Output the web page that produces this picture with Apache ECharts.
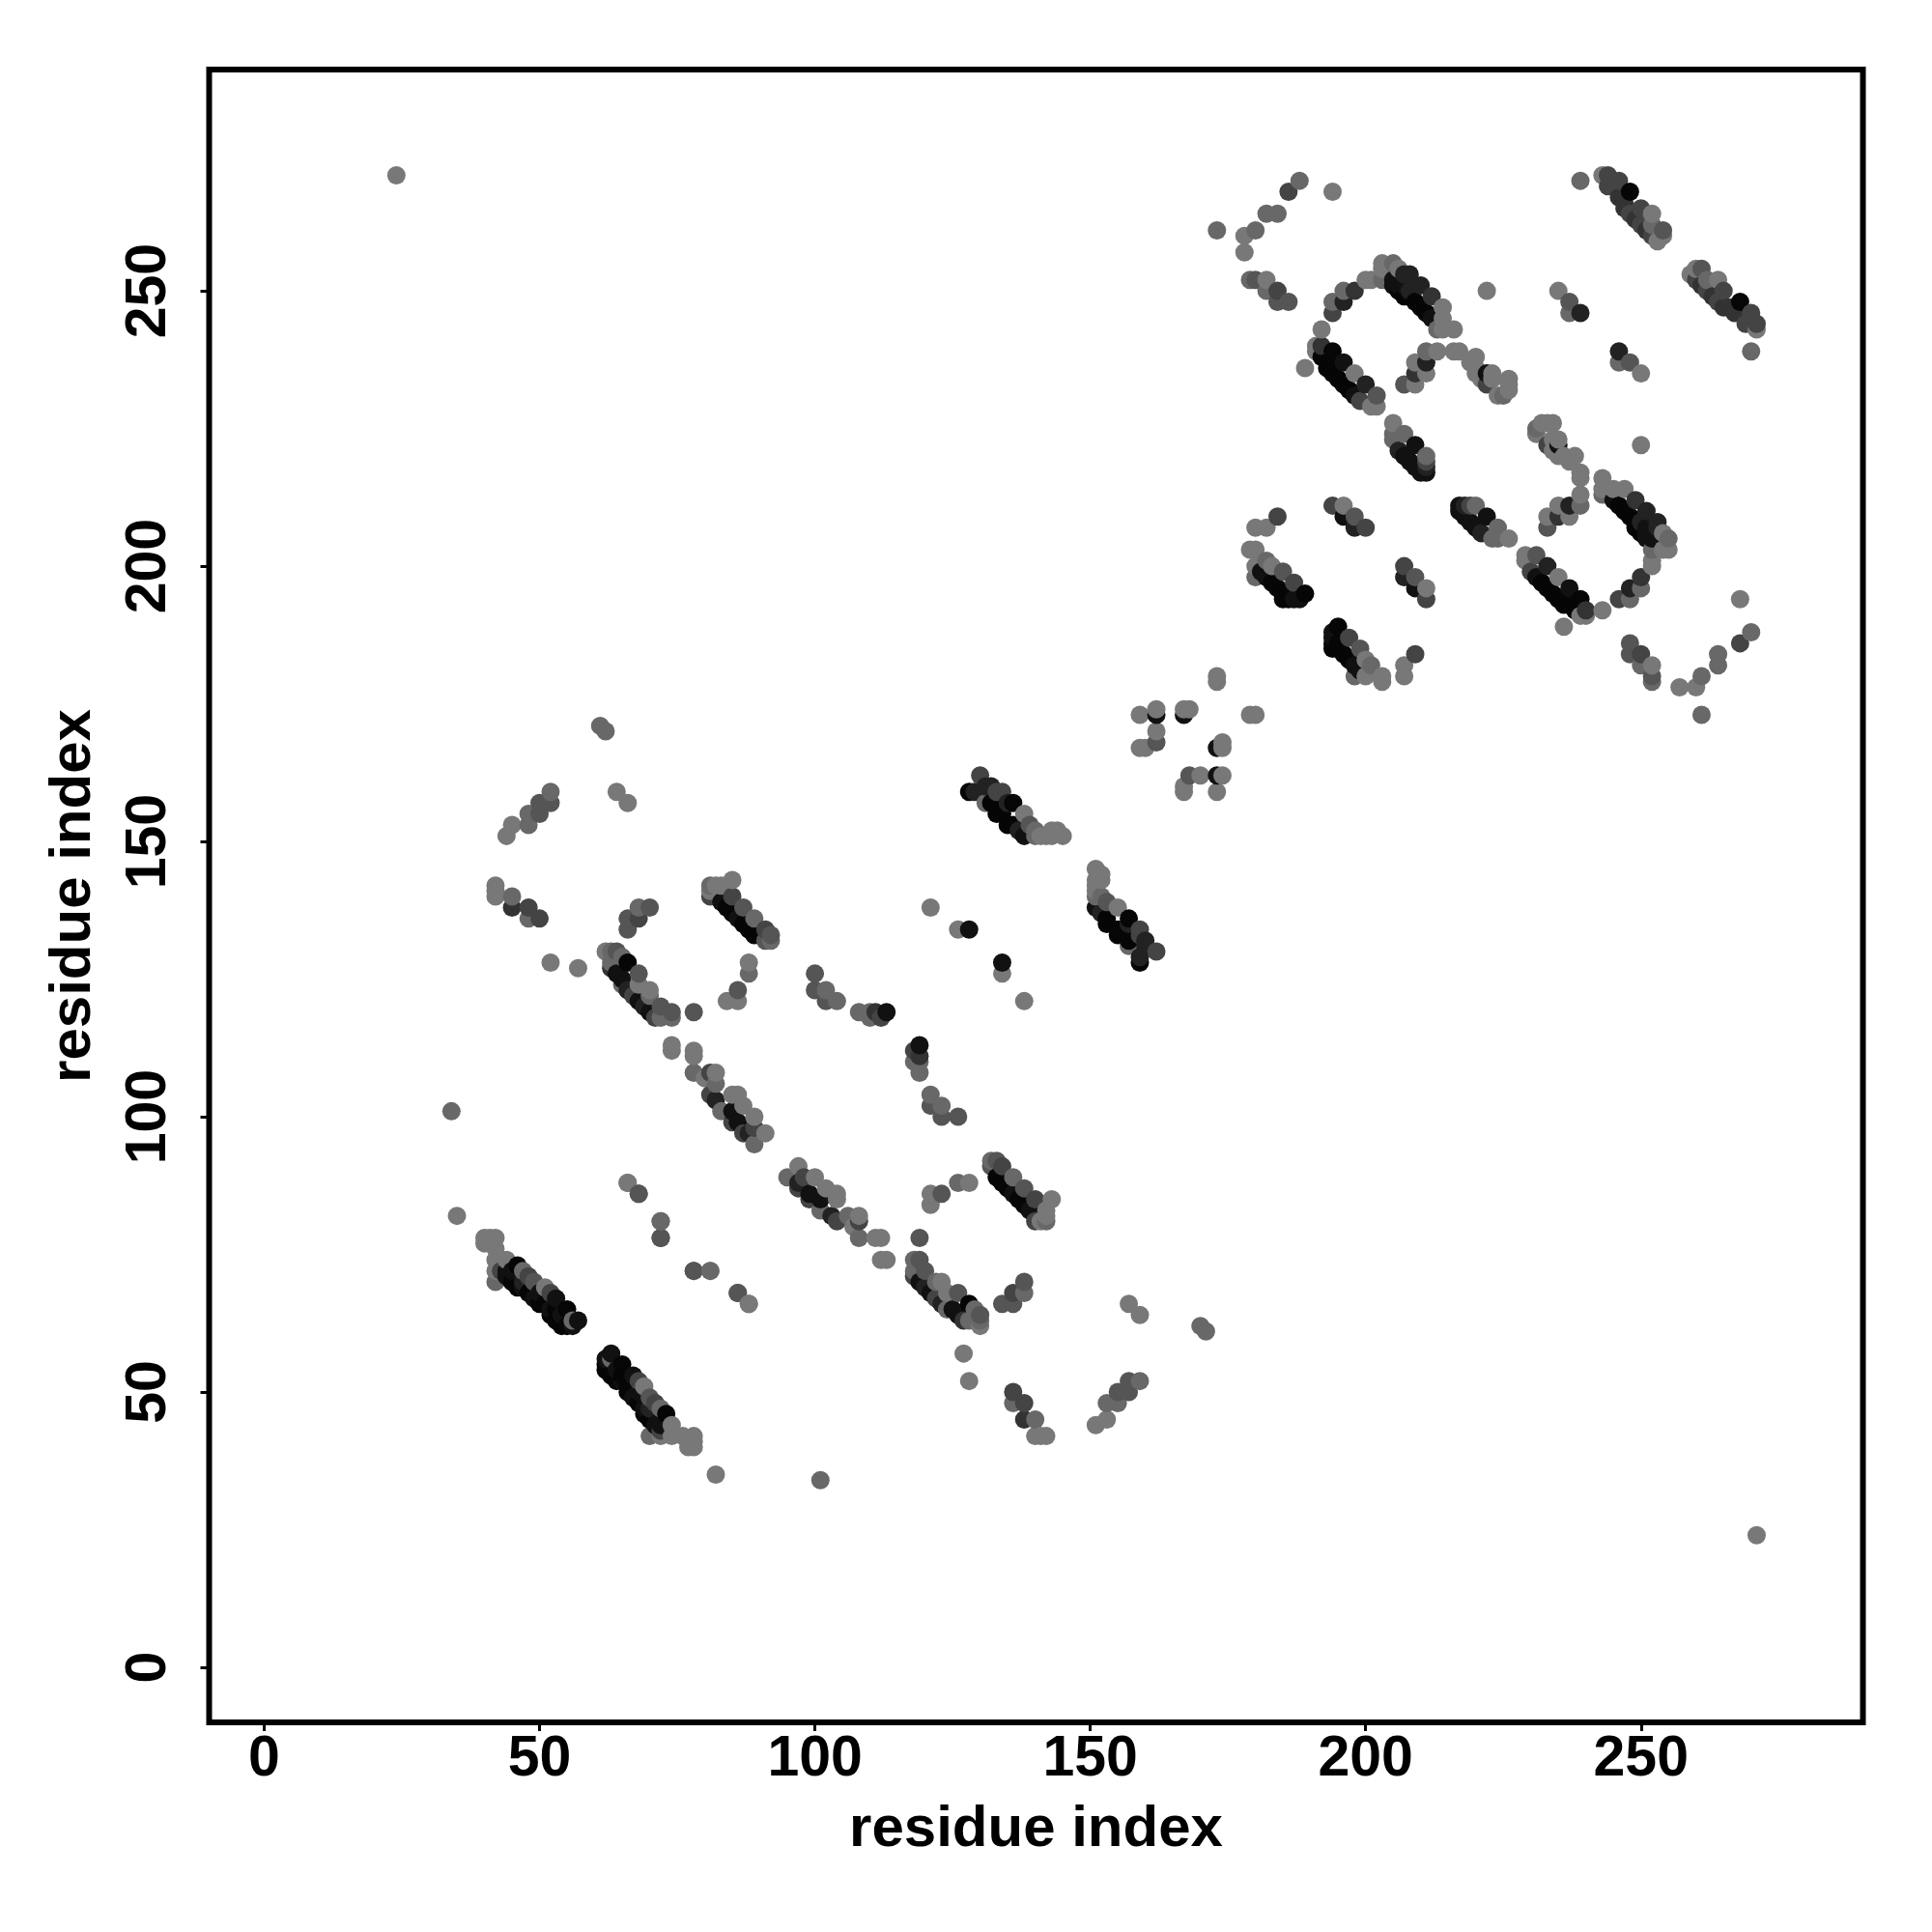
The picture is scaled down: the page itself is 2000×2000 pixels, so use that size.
<!DOCTYPE html>
<html><head><meta charset="utf-8">
<style>html,body{margin:0;padding:0;background:#fff}#c{width:2000px;height:2000px}</style>
<script src="https://cdn.jsdelivr.net/npm/echarts@6/dist/echarts.min.js"></script>
</head><body><div id="c"></div>
<script>
// Contacts [residue i, residue j, strength level]; the map is symmetric, so each is listed once.
const isolated=[[24,271,0],[34,101,1],[35,82,0],[66,88,0],[68,86,2],[72,81,0],[72,78,3],[78,72,2],[81,72,1],[86,68,2],[88,66,0],[61,171,1],[62,170,1],[64,159,0],[66,157,0],[52,128,0],[57,127,0],[121,138,0],[126,134,0],[128,134,6],[222,250,0],[189,236,0],[192,243,0]];
const strandA=[[40,78,0],[41,78,0],[42,78,0],[40,77,0],[41,77,0],[42,76,0],[42,74,0],[42,72,0],[42,70,1],[44,74,0],[43,72,3],[44,72,6],[44,71,6],[45,72,6],[45,70,7],[46,73,7],[47,72,1],[46,69,7],[47,70,5],[47,69,6],[48,71,3],[48,68,7],[49,70,2],[49,67,6],[50,68,6],[50,66,7],[51,69,0],[51,66,7],[52,68,3],[52,64,7],[52,65,6],[53,67,6],[53,65,7],[53,63,7],[54,62,7],[54,64,6],[55,65,7],[55,62,7],[56,62,6],[56,63,1],[57,63,6]];
const strandB=[[95,89,1],[97,91,0],[97,87,3],[99,85,3],[101,83,1],[104,81,3],[98,89,3],[100,89,0],[102,87,0],[104,86,0],[104,85,0],[106,82,1],[108,82,0],[108,81,3],[108,78,1],[111,78,0],[112,78,0],[112,74,0],[113,74,0],[107,80,0],[97,88,5],[99,86,6],[101,85,6],[103,82,5]];
const strandC=[[118,74,1],[119,74,2],[118,72,1],[118,71,3],[119,70,6],[120,72,2],[120,69,5],[121,68,6],[122,70,1],[122,67,3],[123,70,0],[123,66,5],[124,68,0],[124,65,1],[125,65,6],[126,68,2],[126,64,6],[127,63,4],[128,66,7],[128,63,1],[129,65,1],[130,64,2],[130,62,0],[130,63,1]];
const strandD=[[132,92,1],[132,91,2],[133,92,2],[133,89,7],[134,91,3],[134,88,7],[135,87,7],[136,89,1],[136,86,6],[137,85,7],[138,84,7],[138,87,2],[139,83,6],[140,85,3],[143,85,0],[142,83,0],[142,82,0],[142,81,1],[141,81,0],[140,81,3]];
const arcE=[[119,78,2],[121,86,0],[123,86,2],[121,84,0],[126,88,1],[128,88,0]];
const arcF=[[119,113,6],[118,112,3],[119,111,4],[118,110,1],[119,110,1],[119,108,1],[121,104,1],[121,102,2],[123,102,1],[123,100,2],[126,100,2]];
const arcG=[[138,70,2],[136,68,3],[138,68,1],[134,66,2],[136,66,2]];
const arcH=[[136,50,3],[136,48,1],[138,48,3],[138,45,4],[140,45,1],[140,42,0],[141,42,0],[142,42,0],[151,44,0],[153,45,0],[153,48,1],[155,48,1],[155,50,2],[157,50,2],[157,52,2],[159,52,1]];
const strandI=[[128,159,7],[129,159,5],[130,162,3],[131,160,5],[131,157,1],[132,160,5],[132,157,7],[133,159,3],[133,155,7],[134,159,3],[134,155,7],[135,157,5],[135,153,7],[136,157,7],[136,153,7],[137,152,5],[138,155,0],[138,151,6],[139,153,2],[140,152,1],[140,151,1],[141,151,0],[142,151,0],[143,152,0],[143,151,0],[144,152,0],[145,151,0]];
const clusterK=[[159,173,0],[162,173,6],[162,174,0],[162,170,0],[162,168,2],[159,167,0],[160,167,0],[167,173,6],[167,174,0],[168,174,0],[173,179,0],[173,180,0]];
const strandS1=[[179,203,0],[180,203,0],[180,200,0],[180,198,1],[181,199,6],[182,201,1],[183,200,0],[183,197,7],[185,199,2],[185,195,7],[185,194,7],[186,195,7],[187,197,3],[189,195,7],[182,198,6],[184,196,7],[186,194,7],[187,194,6],[188,194,6]];
const arcL=[[184,209,3],[180,207,0],[182,207,0]];
const strandM=[[194,211,3],[196,211,0],[198,209,2],[200,207,3],[196,209,6],[198,207,5]];
const strandN=[[205,226,0],[205,224,1],[205,223,1],[206,221,5],[207,224,1],[207,220,6],[208,219,6],[209,222,6],[209,218,6],[210,217,6],[211,217,6],[211,218,5],[211,219,3],[211,220,1]];
const strandO=[[202,229,0],[201,229,0],[202,231,2],[200,233,5],[198,235,0],[198,231,6],[196,237,6],[196,233,7],[194,239,7],[194,235,7],[193,237,7],[192,240,4],[191,240,0],[191,239,0],[199,230,3],[197,232,7],[195,234,7],[193,236,7],[192,238,7]];
const arcQ=[[194,248,1],[194,246,3],[196,250,1],[196,248,5],[198,250,4],[200,252,0],[201,252,0],[203,252,1]];
const strandR=[[203,255,0],[205,255,1],[203,254,0],[206,254,0],[205,251,6],[206,251,6],[207,253,5],[207,251,6],[207,249,7],[208,253,5],[208,250,5],[208,249,7],[210,251,5],[210,247,7],[212,249,4],[212,245,6],[214,247,0],[214,245,0],[206,250,7],[205,252,6],[209,248,7],[211,246,7],[213,243,1],[214,243,0],[216,243,0]];
const arcS=[[207,233,2],[209,233,0],[209,235,4],[209,237,0],[211,235,0],[211,237,5],[211,239,1],[213,239,0],[216,239,0],[217,239,0]];
const arcT=[[220,238,0],[219,237,0],[220,236,0],[220,235,0],[221,234,0],[222,235,6],[223,235,0],[222,233,3],[225,231,1],[224,231,0],[226,234,0],[226,233,0],[226,232,0],[223,234,0]];
const arcU=[[235,250,0],[237,248,2],[237,246,1],[239,246,5],[239,270,1]];
const arcV=[[173,261,1],[188,270,1],[186,268,3],[194,268,0],[182,264,1],[184,264,1],[180,261,1],[178,260,0],[178,257,0],[179,252,1],[180,252,2],[182,252,0],[182,250,1],[184,250,3],[184,248,2],[186,248,2]];
const strandW=[[243,271,0],[244,271,3],[244,269,3],[246,270,3],[246,267,4],[247,266,4],[247,265,4],[248,268,7],[248,264,3],[249,263,4],[250,265,3],[250,262,3],[251,261,4],[252,264,0],[252,262,1],[252,260,3],[253,259,0],[254,261,2],[254,260,0]];
const axisTicks=[0,50,100,150,200,250];
const axisTitle="residue index";
const grayLevels=["#787878","#686868","#555555","#444444","#333333","#222222","#111111","#060606"];

const half=[...isolated,...strandA,...strandB,...strandC,...strandD,...arcE,...arcF,...arcG,...arcH,...strandI,...clusterK,...strandS1,...arcL,...strandM,...strandN,...strandO,...arcQ,...strandR,...arcS,...arcT,...arcU,...arcV,...strandW];
const points=[];
half.forEach(([a,b,s])=>{points.push([a,b,s]);points.push([b,a,s]);});
points.sort((p,q)=>p[0]-q[0]||p[1]-q[1]);

const font='"Liberation Sans"';
function axis(isX){return {
  type:'value',min:-10,max:isX?290.3:290.2,
  name:axisTitle,nameLocation:'middle',nameGap:isX?81:110,
  nameTextStyle:{fontFamily:font,fontWeight:'bold',fontSize:60,color:'#000'},
  axisLine:{show:false,onZero:false},splitLine:{show:false},
  axisTick:{show:true,length:9,lineStyle:{color:'#000',width:3},customValues:axisTicks},
  axisLabel:{show:true,customValues:axisTicks,margin:isX?9:62,rotate:isX?0:90,
    fontFamily:font,fontWeight:'bold',fontSize:59,color:'#000',
    verticalAlign:isX?'top':'middle',align:'center'}
};}
const chart=echarts.init(document.getElementById('c'),null,{renderer:'canvas'});
chart.setOption({
  animation:false,backgroundColor:'#fff',
  grid:{left:216.5,top:72,width:1712,height:1711,show:true,borderColor:'#000',borderWidth:6,backgroundColor:'#fff'},
  xAxis:axis(true),yAxis:axis(false),
  series:[{type:'scatter',data:points,symbol:'circle',symbolSize:19,
    itemStyle:{opacity:1,color:p=>grayLevels[p.value[2]]},
    emphasis:{disabled:true}}]
});
</script></body></html>
